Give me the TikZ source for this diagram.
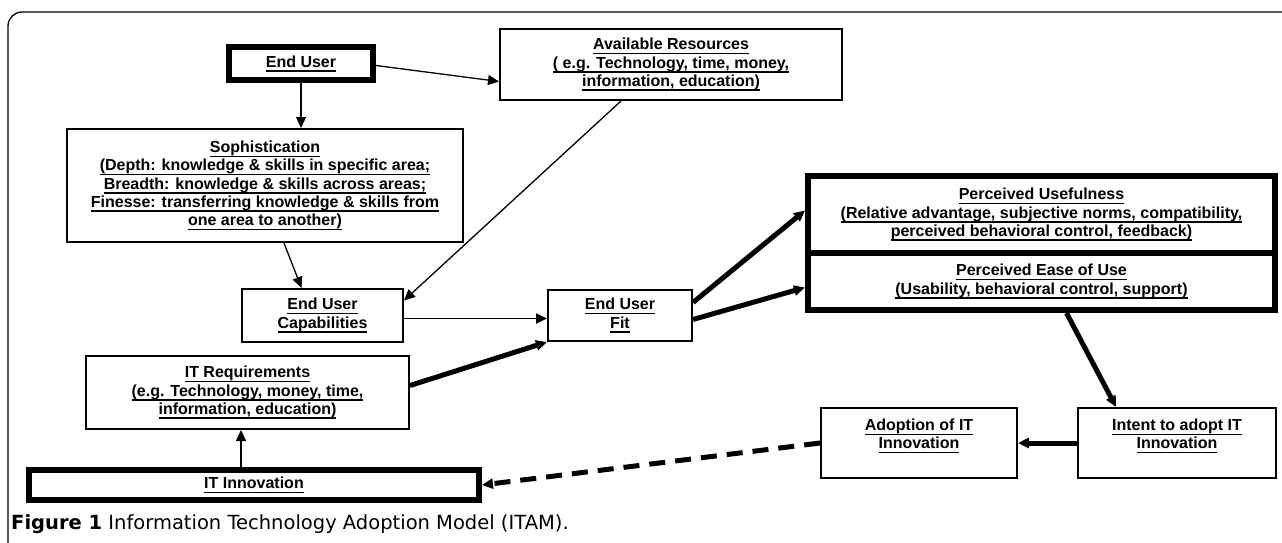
\documentclass[tikz,border=0pt]{standalone}
\usepackage{fontspec}
\setmainfont{Liberation Sans}
\newfontfamily\capfont{DejaVu Sans}
\usetikzlibrary{arrows.meta}
\newcommand{\uln}[1]{\setbox0\hbox{#1}\rlap{\rule[-4.5pt]{\wd0}{1.4pt}}\box0}

\begin{document}
\begin{tikzpicture}[x=1pt,y=1pt,>={Triangle[length=11pt,width=10pt]},
  plain box/.style={draw,line width=2pt,align=center,inner sep=0pt,font=\fontsize{16}{18.3}\selectfont\bfseries},
  bold box/.style={plain box,line width=6pt},
  thin line/.style={->,line width=1.3pt},
  heavy line/.style={->,line width=5pt}]
    \useasboundingbox (0,0) rectangle (1282,-543);
    \draw[line width=1.3pt, rounded corners=14pt] (8,-560) |- (1300,-12);

    \node[bold box, minimum width=144, minimum height=33] (user) at (301,-63.5) {\uln{End User}};
    \node[plain box, minimum width=342, minimum height=71] (res) at (671,-64.5)
        {\uln{Available Resources}\\\uln{( e.g. Technology, time, money,}\\\uln{information, education)}};
    \node[plain box, minimum width=396, minimum height=113] (soph) at (265,-185.5)
        {\uln{Sophistication}\\\uln{(Depth: knowledge \& skills in specific area;}\\\uln{Breadth: knowledge \& skills across areas;}\\\uln{Finesse: transferring knowledge \& skills from}\\\uln{one area to another)}};
    \node[plain box, minimum width=161, minimum height=53] (capab) at (322.5,-315.5) {\uln{End User}\\\uln{Capabilities}};
    \node[plain box, minimum width=144, minimum height=51] (fit) at (620,-315.5) {\uln{End User}\\\uln{Fit}};
    \node[bold box, minimum width=467, minimum height=77] (useful) at (1041.5,-214.5)
        {\uln{Perceived Usefulness}\\\uln{(Relative advantage, subjective norms, compatibility,}\\\uln{perceived behavioral control, feedback)}};
    \node[bold box, minimum width=467, minimum height=57] (ease) at (1041.5,-281.5)
        {\uln{Perceived Ease of Use}\\\uln{(Usability, behavioral control, support)}};
    \node[plain box, minimum width=323, minimum height=73] (req) at (247.5,-392.5)
        {\uln{IT Requirements}\\\uln{(e.g. Technology, money, time,}\\\uln{information, education)}};
    \node[bold box, minimum width=450, minimum height=30] (innov) at (254,-485) {\uln{IT Innovation}};
    \node[plain box, minimum width=196, minimum height=70] (adopt) at (919,-443) {\uln{Adoption of IT}\\\uln{Innovation}\\\mbox{}};
    \node[plain box, minimum width=198, minimum height=70] (intent) at (1177,-443) {\uln{Intent to adopt IT}\\\uln{Innovation}\\\mbox{}};

    \node[anchor=base west, inner sep=0pt, font=\capfont\fontsize{19.5}{22}\selectfont] (caption) at (11,-529)
        {\textbf{Figure 1} Information Technology Adoption Model (ITAM).};

    % connectors
    \draw[thin line] (user.south) -- (user.south |- soph.north);
    \draw[thin line] ([yshift=-2pt]user.east) -- ([yshift=-17pt]res.west);
    \draw[thin line] ([xshift=-50pt]res.south) -- ([yshift=15pt]capab.east);
    \draw[thin line] ([xshift=19pt]soph.south) -- ([xshift=-21pt]capab.north);
    \draw[->,line width=1.8pt] ([yshift=-3pt]capab.east) -- ([yshift=-3pt]fit.west);
    \draw[heavy line] ([yshift=7pt]req.east) -- (fit.south west);
    \draw[heavy line] ([yshift=13pt]fit.east) -- ([yshift=4pt]useful.west);
    \draw[heavy line] ([yshift=-4pt]fit.east) -- ([yshift=-6pt]ease.west);
    \draw[heavy line] ([xshift=25pt]ease.south) -- ([xshift=-61pt]intent.north);
    \draw[heavy line] (intent.west) -- (adopt.east);
    \draw[heavy line, dash pattern=on 16pt off 10pt] (adopt.west) -- (innov.east);
    \draw[thin line] ([xshift=-13pt]innov.north) -- ([xshift=-13pt]innov.north |- req.south);
\end{tikzpicture}
\end{document}
